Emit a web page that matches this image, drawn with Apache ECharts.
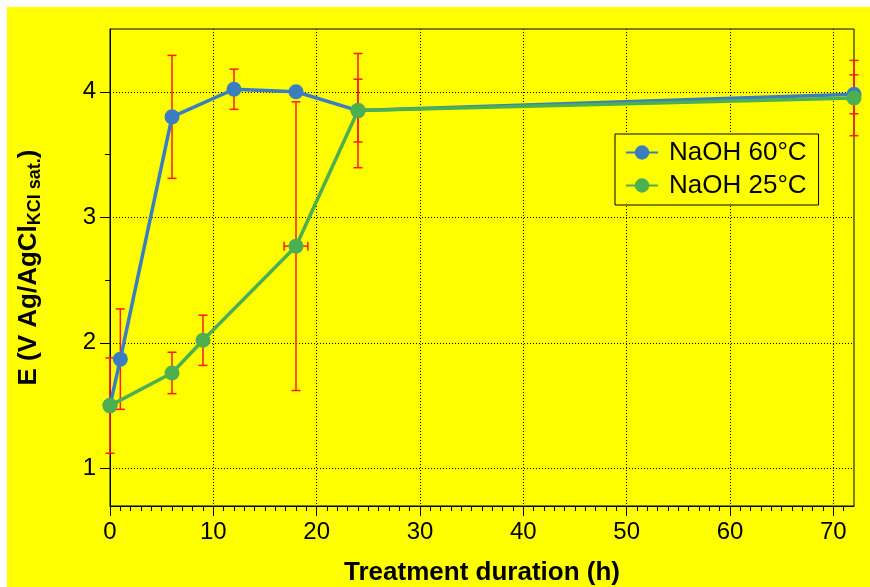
<!DOCTYPE html>
<html>
<head>
<meta charset="utf-8">
<script src="https://cdn.jsdelivr.net/npm/echarts@6/dist/echarts.min.js"></script>
<style>
  html, body { margin: 0; padding: 0; background: #ffffff; }
  #chart { position: absolute; left: 7px; top: 7px; width: 863px; height: 580px; background: #ffff00; }
</style>
</head>
<body>
<div id="chart"></div>
<script>
// ---- data ----
const seriesNames = ['NaOH 60°C', 'NaOH 25°C'];
const hours60 = [0, 1, 6, 12, 18, 24, 72];
const e60     = [1.50, 1.87, 3.80, 4.02, 4.00, 3.85, 3.98];
const err60   = [0, 0.40, 0.49, 0.16, 0, 0.25, 0.155];
const hours25 = [0, 6, 9, 18, 24, 72];
const e25     = [1.50, 1.76, 2.02, 2.77, 3.85, 3.95];
const err25   = [0.38, 0.165, 0.20, 1.15, 0.455, 0.30];
const xerr25  = [0, 0, 0, 1.15, 0, 0];
const xTickLabels = [0, 10, 20, 30, 40, 50, 60, 70];
const yTickLabels = [1, 2, 3, 4];
const yMinorTicks = [1.5, 2.5, 3.5];
const xMin = 0, xMax = 72, yMin = 0.7, yMax = 4.5;

const xMinorTicks = [];
for (let h = xMin + 1; h < xMax; h++) { if (h % 10 !== 0) xMinorTicks.push(h); }

const FONT = '"Liberation Sans", Arial, Helvetica, sans-serif';
const BLUE = '#3a7ebf';
const GREEN = '#4caf50';
const RED = '#ff1a1a';

function errData(xs, ys, es, xes) {
  return xs.map((x, i) => [x, ys[i], es[i], xes ? xes[i] : 0]);
}

function renderErr(params, api) {
  const x = api.value(0), y = api.value(1), e = api.value(2), xe = api.value(3);
  const children = [];
  const style = { stroke: RED, lineWidth: 1.5 };
  const cap = 4.5;
  if (e > 0) {
    const top = api.coord([x, y + e]);
    const bot = api.coord([x, y - e]);
    children.push({ type: 'line', shape: { x1: top[0], y1: top[1], x2: bot[0], y2: bot[1] }, style });
    children.push({ type: 'line', shape: { x1: top[0] - cap, y1: top[1], x2: top[0] + cap, y2: top[1] }, style });
    children.push({ type: 'line', shape: { x1: bot[0] - cap, y1: bot[1], x2: bot[0] + cap, y2: bot[1] }, style });
  }
  if (xe > 0) {
    const l = api.coord([x - xe, y]);
    const r = api.coord([x + xe, y]);
    children.push({ type: 'line', shape: { x1: l[0], y1: l[1], x2: r[0], y2: r[1] }, style });
    children.push({ type: 'line', shape: { x1: l[0], y1: l[1] - cap, x2: l[0], y2: l[1] + cap }, style });
    children.push({ type: 'line', shape: { x1: r[0], y1: r[1] - cap, x2: r[0], y2: r[1] + cap }, style });
  }
  return { type: 'group', children };
}

const chart = echarts.init(document.getElementById('chart'), null, { renderer: 'canvas' });

const option = {
  backgroundColor: '#ffff00',
  animation: false,
  textStyle: { fontFamily: FONT },
  grid: {
    left: 103, top: 22, right: 16, bottom: 81,
    containLabel: false, outerBoundsMode: 'none',
    show: true, borderColor: '#000', borderWidth: 1, backgroundColor: 'transparent'
  },
  legend: {
    left: 608, top: 127,
    orient: 'vertical',
    data: seriesNames,
    backgroundColor: '#ffff00',
    borderColor: '#000', borderWidth: 1,
    padding: [3, 12, 4, 10],
    itemGap: 2,
    itemWidth: 32, itemHeight: 18,
    textStyle: { fontFamily: FONT, fontSize: 26, color: '#000', lineHeight: 31, padding: [0, 0, 0, 6] }
  },
  xAxis: [{
    type: 'value', position: 'bottom',
    min: xMin, max: xMax,
    name: 'Treatment duration (h)', nameLocation: 'middle', nameGap: 54,
    nameTextStyle: { fontFamily: FONT, fontSize: 26, fontWeight: 'bold', color: '#000' },
    axisLine: { show: true, onZero: false, lineStyle: { color: '#000', width: 1 } },
    axisTick: { show: true, inside: false, length: 10, lineStyle: { color: '#000', width: 1 }, customValues: xTickLabels },
    axisLabel: { show: true, margin: 14, fontSize: 24, color: '#000', fontFamily: FONT, customValues: xTickLabels },
    splitLine: { show: true, lineStyle: { color: '#000', width: 1, type: [1, 2] } }
  }, {
    type: 'value', position: 'bottom',
    min: xMin, max: xMax,
    axisLine: { show: false, onZero: false },
    axisTick: { show: true, inside: false, length: 5, lineStyle: { color: '#000', width: 1 }, customValues: xMinorTicks },
    axisLabel: { show: false },
    splitLine: { show: false }
  }],
  yAxis: [{
    type: 'value', position: 'left',
    min: yMin, max: yMax,
    name: '{m|E (V Ag/AgCl}{s|KCl sat.}{m|)}', nameLocation: 'middle', nameGap: 66,
    nameTextStyle: {
      fontFamily: FONT, color: '#000',
      rich: {
        m: { fontFamily: FONT, fontSize: 26, fontWeight: 'bold', color: '#000', lineHeight: 28, verticalAlign: 'top' },
        s: { fontFamily: FONT, fontSize: 18, fontWeight: 'bold', color: '#000', lineHeight: 20, verticalAlign: 'bottom', padding: [14, 0, 0, 0] }
      }
    },
    axisLine: { show: true, onZero: false, lineStyle: { color: '#000', width: 1 } },
    axisTick: { show: true, inside: false, length: 10, lineStyle: { color: '#000', width: 1 }, customValues: yTickLabels },
    axisLabel: { show: true, margin: 14, fontSize: 24, color: '#000', fontFamily: FONT, customValues: yTickLabels },
    splitLine: { show: true, lineStyle: { color: '#000', width: 1, type: [1, 2] } }
  }, {
    type: 'value', position: 'left',
    min: yMin, max: yMax,
    axisLine: { show: false, onZero: false },
    axisTick: { show: true, inside: false, length: 5, lineStyle: { color: '#000', width: 1 }, customValues: yMinorTicks },
    axisLabel: { show: false },
    splitLine: { show: false }
  }],
  series: [
    {
      name: 'err60', type: 'custom', xAxisIndex: 0, yAxisIndex: 0, z: 1,
      renderItem: renderErr, data: errData(hours60, e60, err60), silent: true, clip: false
    },
    {
      name: 'err25', type: 'custom', xAxisIndex: 0, yAxisIndex: 0, z: 1,
      renderItem: renderErr, data: errData(hours25, e25, err25, xerr25), silent: true, clip: false
    },
    {
      name: seriesNames[0], type: 'line', xAxisIndex: 0, yAxisIndex: 0, z: 3,
      data: hours60.map((h, i) => [h, e60[i]]),
      symbol: 'circle', symbolSize: 15, showAllSymbol: true,
      lineStyle: { color: BLUE, width: 3.5 },
      itemStyle: { color: BLUE, borderWidth: 0 },
      clip: false
    },
    {
      name: seriesNames[1], type: 'line', xAxisIndex: 0, yAxisIndex: 0, z: 4,
      data: hours25.map((h, i) => [h, e25[i]]),
      symbol: 'circle', symbolSize: 15, showAllSymbol: true,
      lineStyle: { color: GREEN, width: 3.5 },
      itemStyle: { color: GREEN, borderWidth: 0 },
      clip: false
    }
  ]
};

chart.setOption(option);
</script>
</body>
</html>
